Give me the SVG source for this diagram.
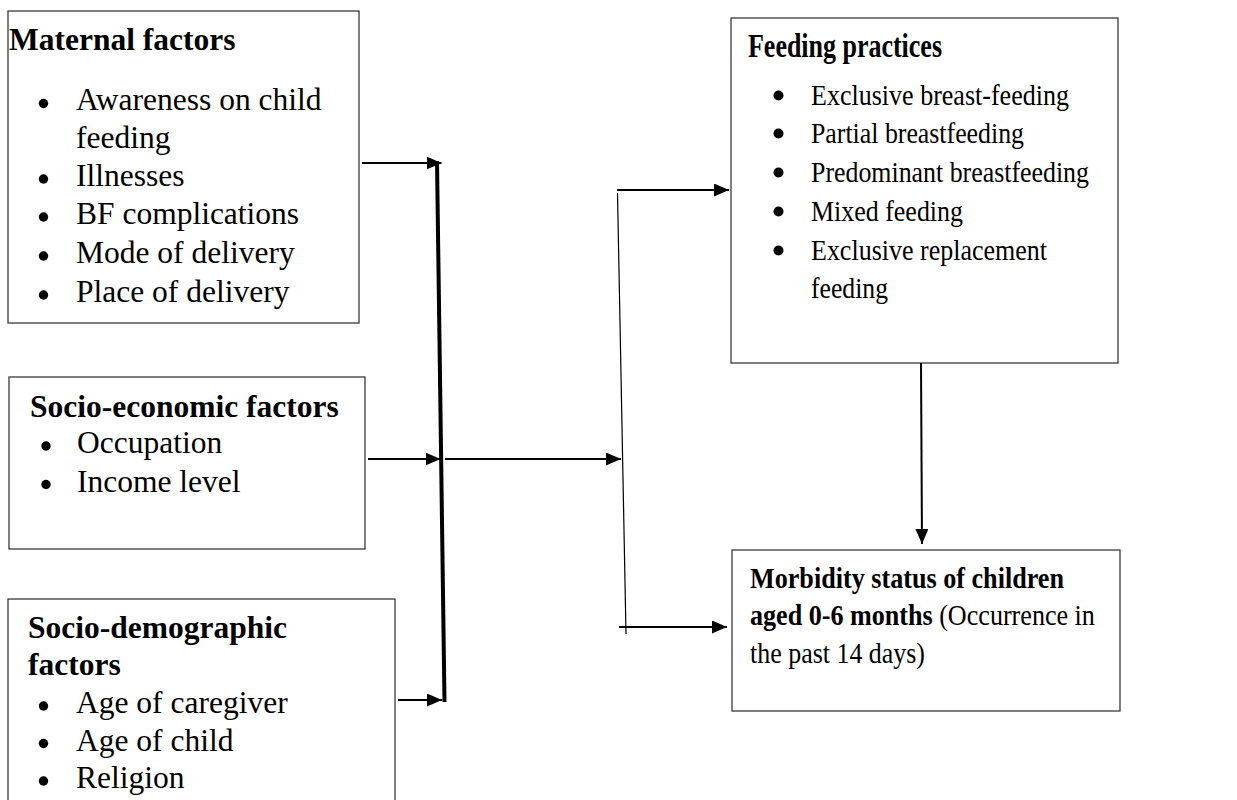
<svg xmlns="http://www.w3.org/2000/svg" width="1237" height="800" viewBox="0 0 1237 800">
<defs>
<marker id="ah" markerUnits="userSpaceOnUse" markerWidth="16" markerHeight="14" refX="15" refY="6.5" orient="auto">
<path d="M0,0 L15,6.5 L0,13 z" fill="#000"/>
</marker>
<style>
.box{fill:#fff;stroke:#3a3a3a;stroke-width:1.3}
.t{font-family:"Liberation Serif","Times New Roman",serif;fill:#000}
.b{font-weight:bold}
.L{font-size:31.5px}
.R{font-size:30px}
.M{font-size:30px}
.c{stroke:#000;stroke-width:2;fill:none}
.dot{fill:#000}
</style>
</defs>
<rect width="1237" height="800" fill="#fff"/>

<g id="maternal">
<rect class="box" x="8" y="11" width="351" height="312"/>
<text class="t b L" x="9" y="50">Maternal factors</text>
<circle class="dot" cx="43.5" cy="103.5" r="4.7"/>
<text class="t L" x="76" y="110">Awareness on child</text>
<text class="t L" x="76" y="148">feeding</text>
<circle class="dot" cx="43.5" cy="179" r="4.7"/>
<text class="t L" x="76" y="186">Illnesses</text>
<circle class="dot" cx="43.5" cy="217" r="4.7"/>
<text class="t L" x="76" y="224">BF complications</text>
<circle class="dot" cx="43.5" cy="256" r="4.7"/>
<text class="t L" x="76" y="263">Mode of delivery</text>
<circle class="dot" cx="43.5" cy="295" r="4.7"/>
<text class="t L" x="76" y="302">Place of delivery</text>
</g>

<g id="socioeconomic">
<rect class="box" x="9" y="377" width="356" height="172"/>
<text class="t b L" x="30" y="417">Socio-economic factors</text>
<circle class="dot" cx="46" cy="446" r="4.7"/>
<text class="t L" x="77" y="453">Occupation</text>
<circle class="dot" cx="46" cy="484.5" r="4.7"/>
<text class="t L" x="77" y="492">Income level</text>
</g>

<g id="sociodemographic">
<rect class="box" x="8" y="599" width="387" height="210"/>
<text class="t b L" x="28" y="638">Socio-demographic</text>
<text class="t b L" x="28" y="675">factors</text>
<circle class="dot" cx="43.5" cy="706" r="4.7"/>
<text class="t L" x="76" y="713">Age of caregiver</text>
<circle class="dot" cx="43.5" cy="743.5" r="4.7"/>
<text class="t L" x="76" y="751">Age of child</text>
<circle class="dot" cx="43.5" cy="781" r="4.7"/>
<text class="t L" x="76" y="788">Religion</text>
</g>

<g id="feeding">
<rect class="box" x="731" y="18" width="387" height="345"/>
<text class="t b" font-size="33" x="748" y="57" textLength="194" lengthAdjust="spacingAndGlyphs">Feeding practices</text>
<circle class="dot" cx="778.5" cy="95.5" r="5"/>
<text class="t R" x="811" y="105" textLength="258" lengthAdjust="spacingAndGlyphs">Exclusive breast-feeding</text>
<circle class="dot" cx="778.5" cy="133.5" r="5"/>
<text class="t R" x="811" y="143" textLength="213" lengthAdjust="spacingAndGlyphs">Partial breastfeeding</text>
<circle class="dot" cx="778.5" cy="172.5" r="5"/>
<text class="t R" x="811" y="182" textLength="278" lengthAdjust="spacingAndGlyphs">Predominant breastfeeding</text>
<circle class="dot" cx="778.5" cy="211.5" r="5"/>
<text class="t R" x="811" y="221" textLength="152" lengthAdjust="spacingAndGlyphs">Mixed feeding</text>
<circle class="dot" cx="778.5" cy="250.5" r="5"/>
<text class="t R" x="811" y="260" textLength="236" lengthAdjust="spacingAndGlyphs">Exclusive replacement</text>
<text class="t R" x="811" y="298" textLength="77" lengthAdjust="spacingAndGlyphs">feeding</text>
</g>

<g id="morbidity">
<rect class="box" x="732" y="550" width="388" height="161"/>
<text class="t b M" x="750" y="588" textLength="314" lengthAdjust="spacingAndGlyphs">Morbidity status of children</text>
<text class="t M" transform="translate(750,625) scale(0.87,1)" x="0" y="0"><tspan class="b">aged 0-6 months</tspan> (Occurrence in</text>
<text class="t M" x="750" y="663" textLength="175" lengthAdjust="spacingAndGlyphs">the past 14 days)</text>
</g>

<g id="connectors">
<line class="c" x1="362" y1="163" x2="441.5" y2="163" marker-end="url(#ah)"/>
<line class="c" x1="368" y1="459" x2="440.5" y2="459" marker-end="url(#ah)"/>
<line class="c" x1="398" y1="700" x2="442" y2="700" marker-end="url(#ah)"/>
<line x1="437" y1="161" x2="444.5" y2="702" stroke="#000" stroke-width="4"/>
<line class="c" x1="445" y1="459" x2="621" y2="459" marker-end="url(#ah)"/>
<line x1="617.5" y1="193" x2="626" y2="634" stroke="#000" stroke-width="1.2"/>
<line class="c" x1="617" y1="190" x2="729" y2="190" marker-end="url(#ah)"/>
<line class="c" x1="619" y1="627" x2="727" y2="627" marker-end="url(#ah)"/>
<line class="c" x1="921" y1="363" x2="922" y2="544" marker-end="url(#ah)"/>
</g>
</svg>
